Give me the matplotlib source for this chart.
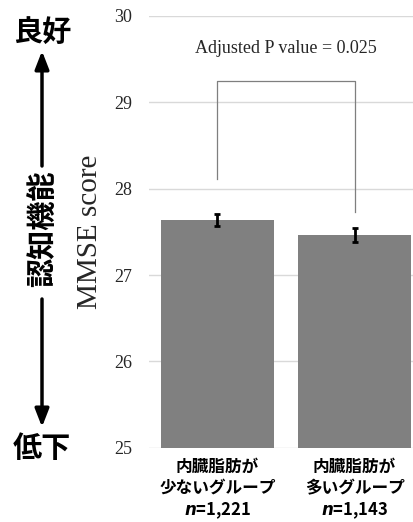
import matplotlib.pyplot as plt

# --- DATA ---
groups = ["内臓脂肪が\n少ないグループ\n$n$=1,221", "内臓脂肪が\n多いグループ\n$n$=1,143"]
mmse = [27.64, 27.46]
mmse_err = [0.07, 0.08]
y_ticks = [25, 26, 27, 28, 29, 30]
p_label = "Adjusted P value = 0.025"
bracket_top = 29.25
bracket_ends = [28.11, 27.73]

W, H = 414, 522

plt.rcParams['font.family'] = ['Noto Sans CJK JP', 'DejaVu Sans']
plt.rcParams['mathtext.fontset'] = 'custom'
plt.rcParams['mathtext.it'] = 'DejaVu Sans:italic:bold'
plt.rcParams['mathtext.rm'] = 'DejaVu Sans:bold'


def fpos(x, y):
    # pixel position (from top-left) -> figure fraction
    return x / W, 1 - y / H


fig = plt.figure(figsize=(W / 100, H / 100), dpi=100)
ax = fig.add_axes([149 / W, 1 - 447.7 / H, 1 - 149 / W, (447.7 - 16) / H])

x = [0, 1]
ax.bar(x, [v - 25 for v in mmse], bottom=25, width=0.832, color='#808080', zorder=2)
ax.errorbar(x, mmse, yerr=mmse_err, fmt='none', ecolor='black', elinewidth=2,
            capsize=2.5, capthick=2, zorder=3)

# significance bracket
ax.plot([x[0], x[0], x[1], x[1]],
        [bracket_ends[0], bracket_top, bracket_top, bracket_ends[1]],
        color='#7f7f7f', lw=0.9, zorder=3)
ax.text(0.5, 29.62, p_label, ha='center', va='center', fontsize=13,
        family='Liberation Serif', color='#262626')

ax.set_ylim(25, 30)
ax.set_xlim(-0.5, 1.5 - 9 / 137)
ax.set_yticks(y_ticks)
ax.set_yticklabels([str(t) for t in y_ticks], family='Liberation Serif', fontsize=13, color='#262626')
ax.tick_params(axis='y', length=0, pad=12)
ax.yaxis.grid(True, color='#d9d9d9', lw=1)
ax.set_axisbelow(True)
for s in ax.spines.values():
    s.set_visible(False)

ax.set_xticks(x)
ax.set_xticklabels(groups, fontsize=12, fontweight='bold', linespacing=1.25)
ax.tick_params(axis='x', length=0, pad=7)

ax.set_ylabel("MMSE score", family='Liberation Serif', fontsize=21, color='#262626')
ax.yaxis.set_label_coords(-0.174, 0.5)

# left side: cognitive function direction
fig.text(*fpos(42, 32), "良好", ha='center', va='center', fontsize=21, fontweight='bold')
fig.text(*fpos(42, 229), "認知機能", ha='center', va='center', fontsize=21,
         fontweight='bold', rotation=90)
fig.text(*fpos(42, 448), "低下", ha='center', va='center', fontsize=21, fontweight='bold')
arrow_kw = dict(arrowstyle='-|>,head_length=0.9,head_width=0.35', color='black', lw=2.5)
fig.add_artist(plt.matplotlib.patches.FancyArrowPatch(
    fpos(42, 166), fpos(42, 51), transform=fig.transFigure, shrinkA=0, shrinkB=0,
    mutation_scale=12, **arrow_kw))
fig.add_artist(plt.matplotlib.patches.FancyArrowPatch(
    fpos(42, 299), fpos(42, 427), transform=fig.transFigure, shrinkA=0, shrinkB=0,
    mutation_scale=12, **arrow_kw))

fig.savefig("out.png", dpi=100)
